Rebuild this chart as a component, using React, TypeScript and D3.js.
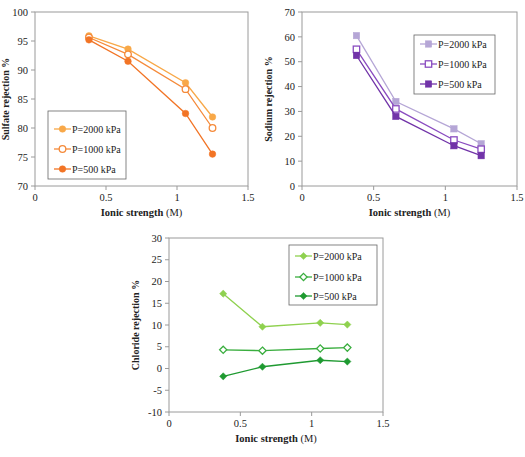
import React from "react";
import * as d3 from "d3";

const ionic = [0.38, 0.655, 1.06, 1.25];
const seriesNames = ["P=2000 kPa", "P=1000 kPa", "P=500 kPa"];

const sulfate2000 = [95.9, 93.6, 87.8, 81.9];
const sulfate1000 = [95.6, 92.7, 86.7, 80.0];
const sulfate500 = [95.2, 91.5, 82.5, 75.5];

const sodium2000 = [60.5, 34.0, 23.0, 17.0];
const sodium1000 = [55.0, 31.0, 18.5, 14.8];
const sodium500 = [52.5, 28.0, 16.2, 12.2];

const chloride2000 = [17.2, 9.6, 10.5, 10.1];
const chloride1000 = [4.3, 4.1, 4.6, 4.8];
const chloride500 = [-1.8, 0.4, 1.9, 1.6];

const xTicks = [0, 0.5, 1, 1.5];
const sulfateTicks = [70, 75, 80, 85, 90, 95, 100];
const sodiumTicks = [0, 10, 20, 30, 40, 50, 60, 70];
const chlorideTicks = [-10, -5, 0, 5, 10, 15, 20, 25, 30];

type Series = { name: string; values: number[]; color: string; marker: "circle" | "square" | "diamond"; open: boolean };

const FONT = "Liberation Serif, DejaVu Serif, serif";
const AXIS = "#9a9a9a";

function Marker({ x, y, s }: { x: number; y: number; s: Series }) {
  const fill = s.open ? "#fff" : s.color;
  const sw = s.open ? 1.3 : 0.5;
  if (s.marker === "circle") return <circle cx={x} cy={y} r={3.3} fill={fill} stroke={s.color} strokeWidth={sw} />;
  if (s.marker === "square") return <rect x={x - 3.2} y={y - 3.2} width={6.4} height={6.4} fill={fill} stroke={s.color} strokeWidth={sw} />;
  const r = 3.6;
  return <path d={`M${x},${y - r}L${x + r},${y}L${x},${y + r}L${x - r},${y}Z`} fill={fill} stroke={s.color} strokeWidth={sw} />;
}

function Panel(props: {
  left: number; right: number; top: number; bottom: number;
  yDomain: [number, number]; yTicks: number[]; yTitle: string; yTitleX: number;
  series: Series[];
  legend: { x: number; y: number; w: number; h: number; rows: number[] };
}) {
  const { left, right, top, bottom, yDomain, yTicks, yTitle, yTitleX, series, legend } = props;
  const x = d3.scaleLinear().domain([0, 1.5]).range([left, right]);
  const y = d3.scaleLinear().domain(yDomain).range([bottom, top]);
  const line = d3.line<[number, number]>().x((d) => x(d[0])).y((d) => y(d[1]));
  return (
    <g>
      <rect x={left} y={top} width={right - left} height={bottom - top} fill="none" stroke={AXIS} strokeWidth={1} />
      {yTicks.map((t) => (
        <g key={"y" + t}>
          <line x1={left - 4} x2={left} y1={y(t)} y2={y(t)} stroke={AXIS} />
          <text x={left - 7} y={y(t)} dy="0.35em" textAnchor="end" fontSize={10.5} fontFamily={FONT} fill="#222">{t}</text>
        </g>
      ))}
      {xTicks.map((t) => (
        <g key={"x" + t}>
          <line x1={x(t)} x2={x(t)} y1={bottom} y2={bottom + 4} stroke={AXIS} />
          <text x={x(t)} y={bottom + 15} textAnchor="middle" fontSize={10.5} fontFamily={FONT} fill="#222">{t}</text>
        </g>
      ))}
      <text x={(left + right) / 2} y={bottom + 30} textAnchor="middle" fontSize={10.5} fontFamily={FONT} fill="#222">
        <tspan fontWeight="bold">Ionic strength</tspan> (M)
      </text>
      <text transform={`translate(${yTitleX},${(top + bottom) / 2}) rotate(-90)`} textAnchor="middle" fontSize={10} fontWeight="bold" fontFamily={FONT} fill="#222">{yTitle}</text>
      {series.map((s) => {
        const pts = ionic.map((v, i) => [v, s.values[i]] as [number, number]);
        return (
          <g key={s.name}>
            <path d={line(pts) || ""} fill="none" stroke={s.color} strokeWidth={1.3} />
            {pts.map((p, i) => <Marker key={i} x={x(p[0])} y={y(p[1])} s={s} />)}
          </g>
        );
      })}
      <rect x={legend.x} y={legend.y} width={legend.w} height={legend.h} fill="#fff" stroke="#666" strokeWidth={0.8} />
      {series.map((s, i) => {
        const ry = legend.rows[i];
        const lx = legend.x + 6;
        return (
          <g key={"l" + s.name}>
            <line x1={lx} x2={lx + 17} y1={ry} y2={ry} stroke={s.color} strokeWidth={1.3} />
            <Marker x={lx + 8.5} y={ry} s={s} />
            <text x={lx + 18} y={ry} dy="0.35em" fontSize={10} fontFamily={FONT} fill="#222">{s.name}</text>
          </g>
        );
      })}
    </g>
  );
}

export default function App() {
  const sulf: Series[] = [
    { name: seriesNames[0], values: sulfate2000, color: "#f8a848", marker: "circle", open: false },
    { name: seriesNames[1], values: sulfate1000, color: "#f58a3a", marker: "circle", open: true },
    { name: seriesNames[2], values: sulfate500, color: "#f27425", marker: "circle", open: false },
  ];
  const sod: Series[] = [
    { name: seriesNames[0], values: sodium2000, color: "#b5a6d6", marker: "square", open: false },
    { name: seriesNames[1], values: sodium1000, color: "#8a4cc0", marker: "square", open: true },
    { name: seriesNames[2], values: sodium500, color: "#7133a8", marker: "square", open: false },
  ];
  const chl: Series[] = [
    { name: seriesNames[0], values: chloride2000, color: "#8fd14f", marker: "diamond", open: false },
    { name: seriesNames[1], values: chloride1000, color: "#3aae3f", marker: "diamond", open: true },
    { name: seriesNames[2], values: chloride500, color: "#1f9a31", marker: "diamond", open: false },
  ];
  return (
    <svg width={525} height={457} style={{ position: "absolute", left: 0, top: 0, background: "#fff" }}>
      <Panel left={35} right={248} top={12} bottom={186} yDomain={[70, 100]} yTicks={sulfateTicks}
        yTitle="Sulfate rejection %" yTitleX={9} series={sulf}
        legend={{ x: 48, y: 111, w: 78, h: 68, rows: [129, 149, 169] }} />
      <Panel left={302} right={517} top={12} bottom={186} yDomain={[0, 70]} yTicks={sodiumTicks}
        yTitle="Sodium rejection %" yTitleX={272} series={sod}
        legend={{ x: 414, y: 35, w: 81, h: 59, rows: [44, 64, 84] }} />
      <Panel left={169} right={383} top={238} bottom={412} yDomain={[-10, 30]} yTicks={chlorideTicks}
        yTitle="Chloride rejection %" yTitleX={139} series={chl}
        legend={{ x: 289, y: 245, w: 88, h: 60, rows: [256, 277, 296] }} />
    </svg>
  );
}
